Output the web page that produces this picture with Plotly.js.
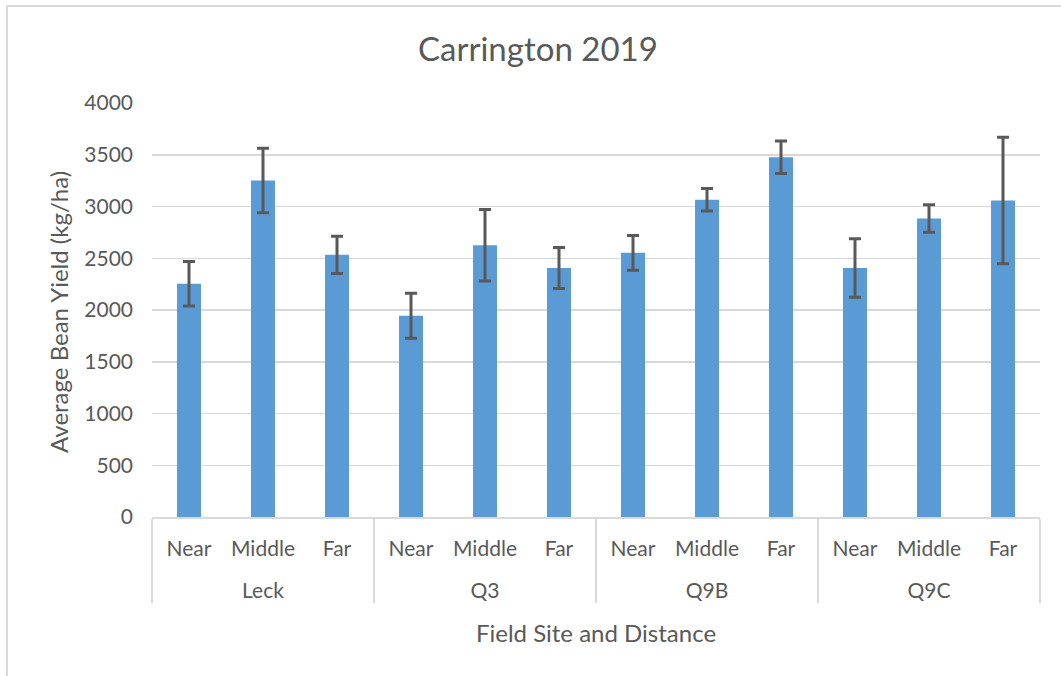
<!DOCTYPE html>
<html>
<head>
<meta charset="utf-8">
<script src="https://cdn.plot.ly/plotly-3.0.1.min.js"></script>
<style>
  html, body { margin: 0; padding: 0; background: #ffffff; }
  #chart { width: 1061px; height: 676px; }
  #frame { position: absolute; left: 6px; top: 5px; width: 1061px; height: 676px;
           border-left: 2px solid #d9d9d9; border-top: 2px solid #d9d9d9; pointer-events: none; }
</style>
</head>
<body>
<div id="chart"></div>
<div id="frame"></div>
<script>
const sites = ["Leck", "Leck", "Leck", "Q3", "Q3", "Q3", "Q9B", "Q9B", "Q9B", "Q9C", "Q9C", "Q9C"];
const distances = ["Near", "Middle", "Far", "Near", "Middle", "Far", "Near", "Middle", "Far", "Near", "Middle", "Far"];
const yieldMean = [2253, 3252, 2533, 1945, 2625, 2405, 2552, 3065, 3476, 2406, 2884, 3058];
const yieldErr = [215, 312, 180, 217, 345, 198, 168, 108, 158, 283, 132, 612];
const yTicks = [0, 500, 1000, 1500, 2000, 2500, 3000, 3500, 4000];

const textColor = "#595959";
const font = "Lato, 'Open Sans', sans-serif";

// outer (site) labels are given a leading blank line so they sit lower, as in the reference
const siteLabels = sites.map(s => "<br>" + s);

const trace = {
  type: "bar",
  x: [siteLabels, distances],
  y: yieldMean,
  marker: { color: "#5b9bd5", line: { width: 0 } },
  error_y: { type: "data", array: yieldErr, visible: true, color: "#595959", thickness: 3, width: 6 },
  hoverinfo: "none"
};

const layout = {
  width: 1061,
  height: 676,
  margin: { l: 152, r: 21, t: 103, b: 159 },
  paper_bgcolor: "rgba(0,0,0,0)",
  plot_bgcolor: "#ffffff",
  showlegend: false,
  bargap: 0.676,
  font: { family: font, color: textColor, size: 20 },
  title: { text: "Carrington 2019", font: { family: font, size: 33, color: textColor }, x: 0.507, xanchor: "center", y: 0.927, yanchor: "middle" },
  xaxis: {
    type: "multicategory",
    showline: true,
    linecolor: "#d9d9d9",
    linewidth: 1.5,
    showdividers: true,
    dividercolor: "#d9d9d9",
    dividerwidth: 1.5,
    ticks: "",
    ticklabelstandoff: 12,
    tickfont: { family: font, size: 21, color: textColor },
    title: { text: "Field Site and Distance", font: { family: font, size: 24, color: textColor }, standoff: 24 }
  },
  yaxis: {
    range: [0, 4000],
    tickvals: yTicks,
    ticktext: yTicks.map(String),
    showgrid: true,
    gridcolor: "#d9d9d9",
    gridwidth: 1.5,
    zeroline: false,
    showline: false,
    ticks: "",
    ticklabelstandoff: 18,
    tickfont: { family: font, size: 21, color: textColor }
  },
  annotations: [{
    text: "Average Bean Yield (kg/ha)",
    xref: "paper", yref: "paper",
    x: -0.106, y: 0.495,
    xanchor: "center", yanchor: "middle",
    textangle: -90,
    showarrow: false,
    font: { family: font, size: 24, color: textColor }
  }]
};

Plotly.newPlot("chart", [trace], layout, { displayModeBar: false, staticPlot: true });
</script>
</body>
</html>
